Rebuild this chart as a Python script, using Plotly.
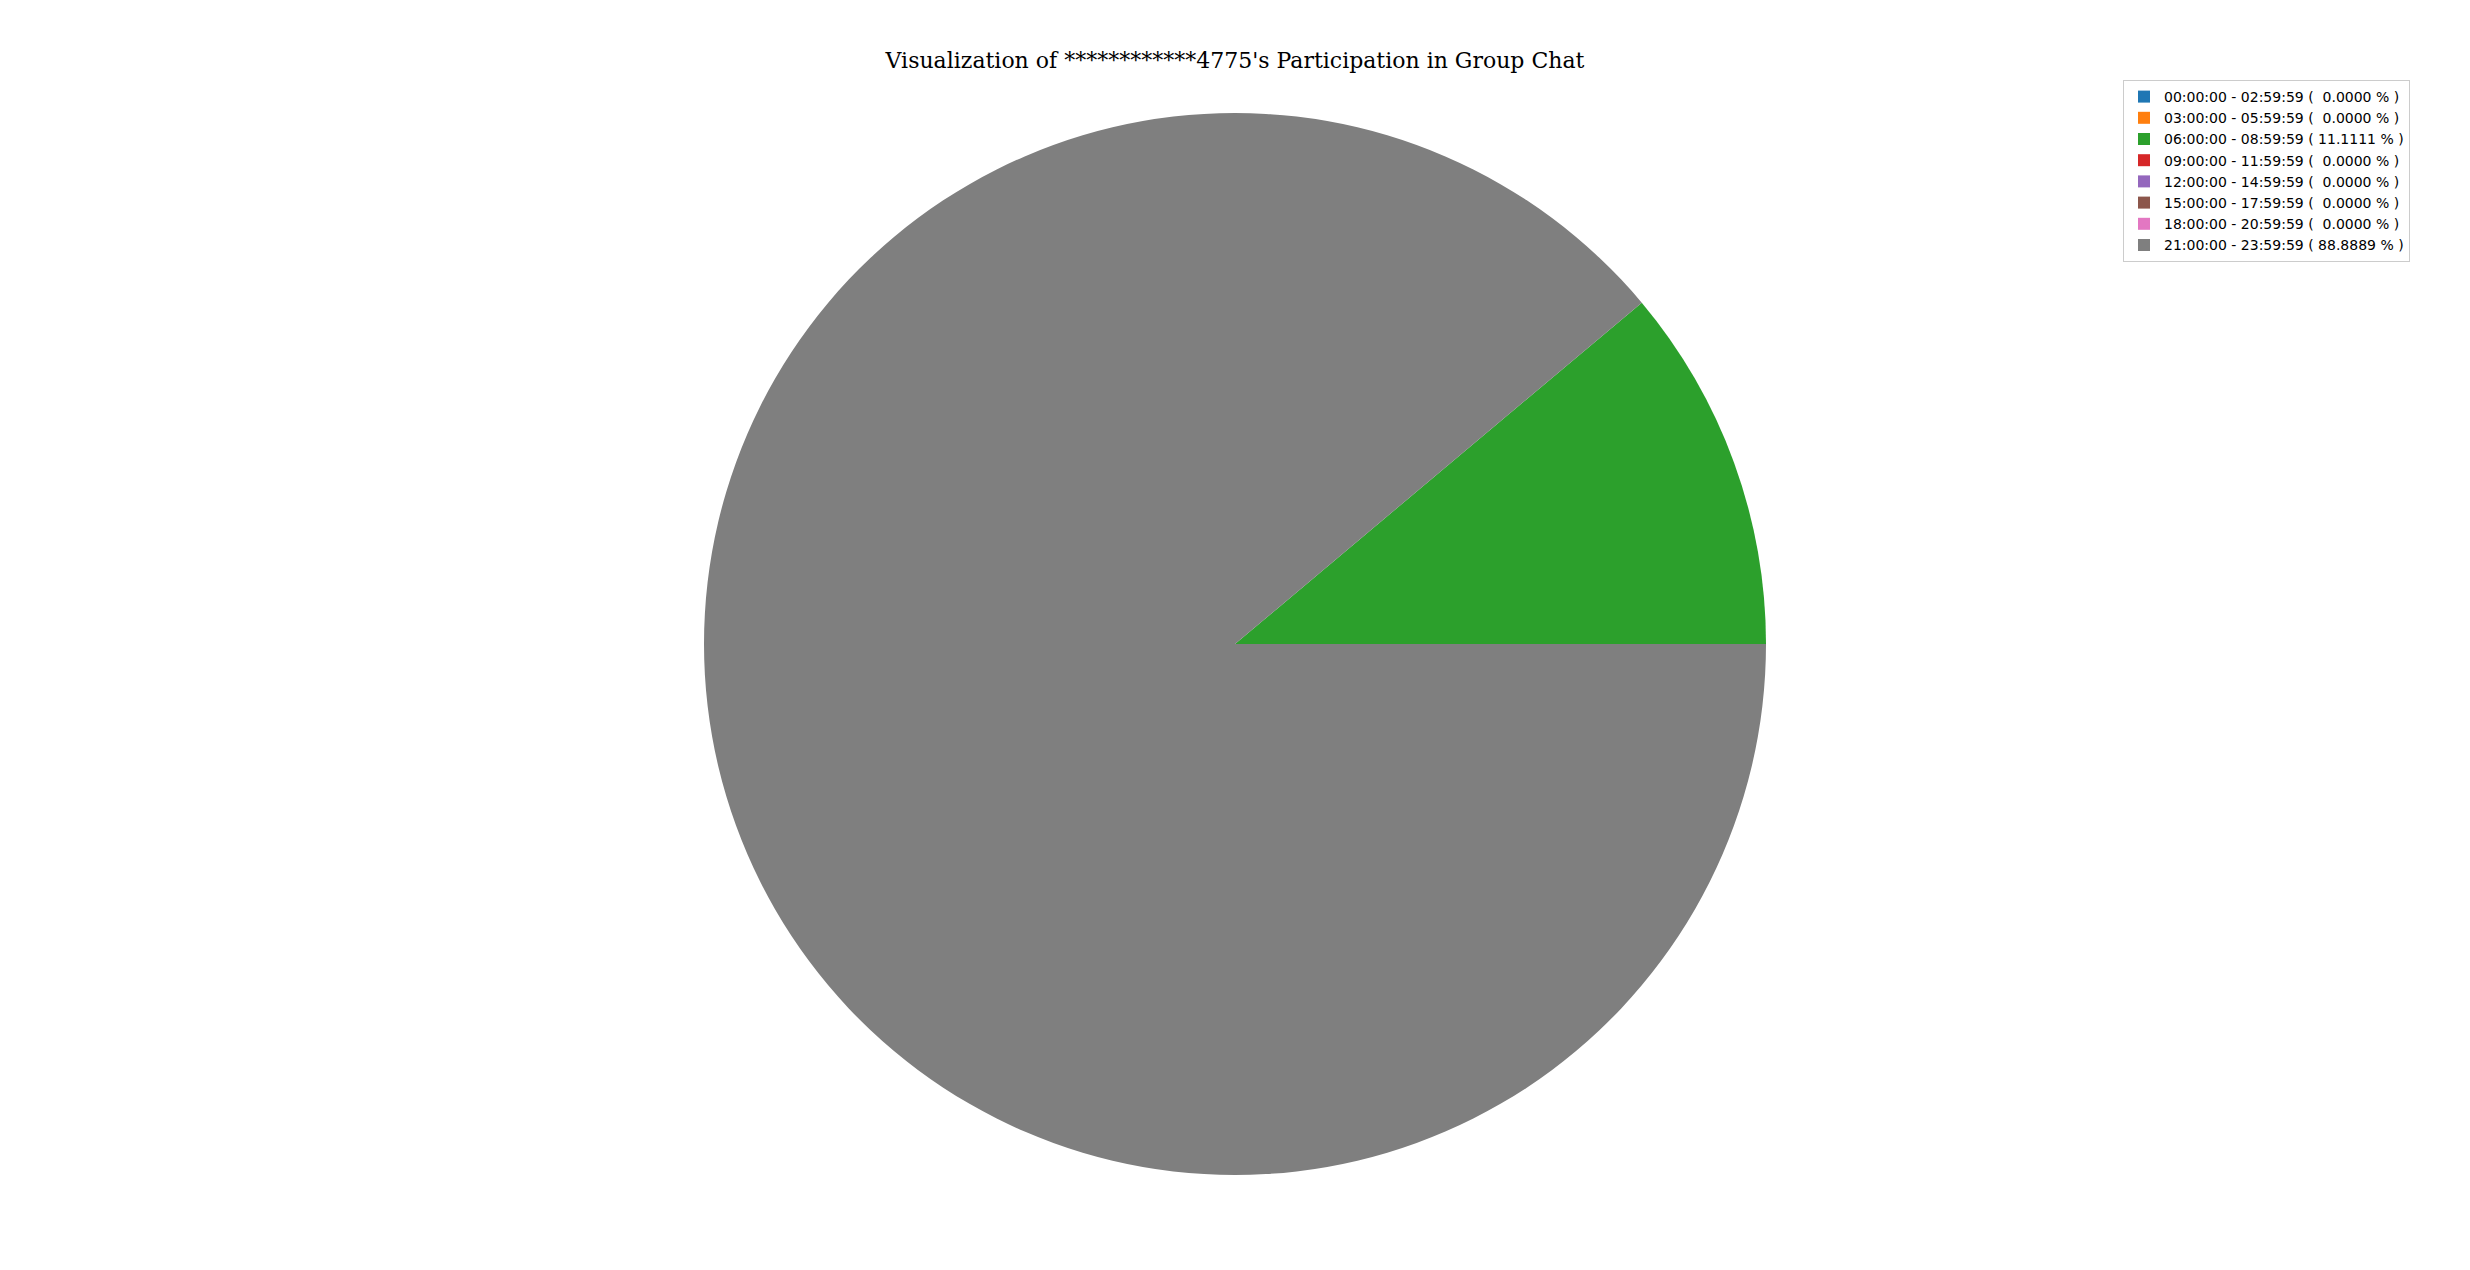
import plotly.graph_objects as go

# time buckets (3 hours each) and message counts
periods = [
    "00:00:00 - 02:59:59",
    "03:00:00 - 05:59:59",
    "06:00:00 - 08:59:59",
    "09:00:00 - 11:59:59",
    "12:00:00 - 14:59:59",
    "15:00:00 - 17:59:59",
    "18:00:00 - 20:59:59",
    "21:00:00 - 23:59:59",
]
counts = [0, 0, 1, 0, 0, 0, 0, 8]
colors = ["#1f77b4", "#ff7f0e", "#2ca02c", "#d62728",
          "#9467bd", "#8c564b", "#e377c2", "#7f7f7f"]

total = sum(counts)
labels = []
for p, c in zip(periods, counts):
    pct = c / total * 100
    labels.append(f"{p} ( {pct:7.4f} % )".replace(" ", "\u00a0"))

W, H = 2470, 1270
cx, cy, r = 1235, 644, 531

fig = go.Figure(go.Pie(
    labels=labels,
    values=counts,
    sort=False,
    direction="counterclockwise",
    rotation=90,
    marker=dict(colors=colors, line=dict(width=0)),
    textinfo="none",
    domain=dict(x=[(cx - r) / W, (cx + r) / W], y=[1 - (cy + r) / H, 1 - (cy - r) / H]),
))

fig.update_layout(
    width=W, height=H,
    margin=dict(l=0, r=0, t=0, b=0),
    paper_bgcolor="white",
    title=dict(text="Visualization of ************4775's Participation in Group Chat",
               x=0.5, xanchor="center", y=1 - 60 / H, yanchor="middle",
               font=dict(family="DejaVu Serif", size=22, color="black")),
    legend=dict(x=2410 / W, xanchor="right", y=1 - 80 / H, yanchor="top",
                bordercolor="#cccccc", borderwidth=1,
                font=dict(family="DejaVu Sans", size=14, color="black"),
                tracegroupgap=0, itemsizing="constant"),
)

# drop the default page margin so the figure sits at the window corner
fig.write_html("out.html", config={"displayModeBar": False},
               post_script="document.body.style.margin='0';")
